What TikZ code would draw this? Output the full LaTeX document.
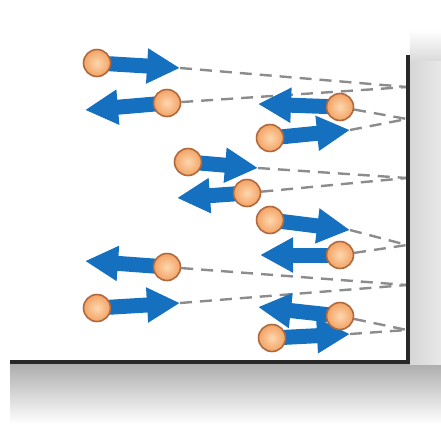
\documentclass[tikz,border=0pt]{standalone}
\usetikzlibrary{arrows.meta}
\pgfdeclarelayer{background}
\pgfsetlayers{background,main}

\definecolor{ballfill}{RGB}{243,163,100}
\definecolor{ballhi}{RGB}{253,215,175}
\definecolor{ballrim}{RGB}{176,104,62}
\definecolor{velblue}{RGB}{22,112,192}
\definecolor{pathgray}{RGB}{140,140,140}
\definecolor{walldark}{RGB}{40,40,40}

\tikzset{
  ball/.style={circle, minimum size=27pt, inner sep=0pt, draw=ballrim,
    line width=1.6pt, shading=radial, inner color=ballhi, outer color=ballfill},
  velocity/.style={draw=velblue, line width=15pt,
    -{Triangle[length=33pt,width=33pt]}},
  trajectory/.style={draw=pathgray, line width=2.4pt, dash pattern=on 12pt off 8pt},
  surface/.style={draw=walldark, line width=4pt}
}

\begin{document}
\begin{tikzpicture}[x=1pt,y=-1pt]
\useasboundingbox (0,0) rectangle (441,429);

% soft shading under the floor and behind the wall
\shade[top color=black!32, bottom color=white] (10,364) rectangle (441,424);
\shade[left color=black!16, right color=black!9] (410,60) rectangle (441,364);
\shade[top color=white, bottom color=black!14] (410,30) rectangle (441,60);

% contact points on the wall
\coordinate (w1) at (407,87);
\coordinate (w2) at (407,119);
\coordinate (w3) at (407,178);
\coordinate (w4) at (407,245);
\coordinate (w5) at (407,285);
\coordinate (w6) at (407,330);

% arrow tips
\coordinate (t1) at (180,68);
\coordinate (t2) at (85,110);
\coordinate (t3) at (258,104);
\coordinate (t4) at (350,130);
\coordinate (t5) at (258,168);
\coordinate (t6) at (177,198);
\coordinate (t7) at (350,230);
\coordinate (t8) at (260,255);
\coordinate (t9) at (85,261);
\coordinate (t10) at (180,303);
\coordinate (t11) at (258,307);
\coordinate (t12) at (350,334);

% molecules
\node[ball] (b1) at (97,63) {};
\node[ball] (b2) at (167,103) {};
\node[ball] (b3) at (340,107) {};
\node[ball] (b4) at (270,138) {};
\node[ball] (b5) at (188,162) {};
\node[ball] (b6) at (247,193) {};
\node[ball] (b7) at (270,220) {};
\node[ball] (b8) at (340,255) {};
\node[ball] (b9) at (167,267) {};
\node[ball] (b10) at (97,308) {};
\node[ball] (b11) at (340,316) {};
\node[ball] (b12) at (272,338) {};

\begin{pgfonlayer}{background}
  % paths towards and away from the wall
  \draw[trajectory] (t1) -- (w1);
  \draw[trajectory] (b2) -- (w1);
  \draw[trajectory] (b3) -- (w2);
  \draw[trajectory] (t4) -- (w2);
  \draw[trajectory] (t5) -- (w3);
  \draw[trajectory] (b6) -- (w3);
  \draw[trajectory] (t7) -- (w4);
  \draw[trajectory] (b8) -- (w4);
  \draw[trajectory] (b9) -- (w5);
  \draw[trajectory] (t10) -- (w5);
  \draw[trajectory] (b11) -- (w6);
  \draw[trajectory] (t12) -- (w6);

  % velocities
  \draw[velocity] (b1.center) -- (t1);
  \draw[velocity] (b2.center) -- (t2);
  \draw[velocity] (b3.center) -- (t3);
  \draw[velocity] (b4.center) -- (t4);
  \draw[velocity] (b5.center) -- (t5);
  \draw[velocity] (b6.center) -- (t6);
  \draw[velocity] (b7.center) -- (t7);
  \draw[velocity] (b8.center) -- (t8);
  \draw[velocity] (b9.center) -- (t9);
  \draw[velocity] (b10.center) -- (t10);
  \draw[velocity] (b11.center) -- (t11);
  \draw[velocity] (b12.center) -- (t12);
\end{pgfonlayer}

% wall and floor
\coordinate (wtop) at (408,55);
\coordinate (corner) at (408,362);
\coordinate (fleft) at (10,362);
\draw[surface] (wtop) -- (corner) -- (fleft);
\end{tikzpicture}
\end{document}
